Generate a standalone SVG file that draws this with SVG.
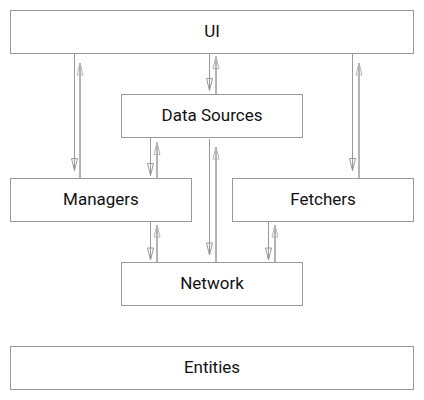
<svg xmlns="http://www.w3.org/2000/svg" width="424" height="400" viewBox="0 0 424 400">
<style>
.box{fill:#fff;stroke:#999;stroke-width:1}
.lbl{font-family:Roboto,"Liberation Sans",sans-serif;font-size:17px;fill:#111;text-anchor:middle}
.dn{stroke:#999;stroke-width:1;fill:none;marker-end:url(#headDn)}
.up{stroke:#b4b4b4;stroke-width:2;fill:none;marker-end:url(#headUp)}
</style>
<defs>
<marker id="headDn" markerUnits="userSpaceOnUse" markerWidth="14" markerHeight="14" refX="12" refY="7" orient="auto" overflow="visible">
<path d="M0,4 L12,7 L0,10 Z" fill="none" stroke="#999" stroke-width="1"/>
</marker>
<marker id="headUp" markerUnits="userSpaceOnUse" markerWidth="14" markerHeight="14" refX="12" refY="7" orient="auto" overflow="visible">
<path d="M0,4 L12,7 L0,10 Z" fill="none" stroke="#b4b4b4" stroke-width="1"/>
</marker>
</defs>
<rect width="424" height="400" fill="#fff"/>
<g id="ui"><rect class="box" x="10.5" y="10.5" width="403" height="43"/><text class="lbl" x="212" y="37">UI</text></g>
<g id="data-sources"><rect class="box" x="121.5" y="94.5" width="181" height="43"/><text class="lbl" x="212" y="121">Data Sources</text></g>
<g id="managers"><rect class="box" x="10.5" y="178.5" width="181" height="43"/><text class="lbl" x="101" y="205">Managers</text></g>
<g id="fetchers"><rect class="box" x="232.5" y="178.5" width="181" height="43"/><text class="lbl" x="323" y="205">Fetchers</text></g>
<g id="network"><rect class="box" x="121.5" y="262.5" width="181" height="43"/><text class="lbl" x="212" y="289">Network</text></g>
<g id="entities"><rect class="box" x="10.5" y="346.5" width="403" height="43"/><text class="lbl" x="212" y="373">Entities</text></g>
<g id="connectors">
<line class="dn" x1="74.5" y1="54" x2="74.5" y2="170.5"/>
<line class="up" x1="80" y1="178" x2="80" y2="63"/>
<line class="dn" x1="209.5" y1="54" x2="209.5" y2="90.5"/>
<line class="up" x1="216" y1="94" x2="216" y2="56.5"/>
<line class="dn" x1="352.5" y1="54" x2="352.5" y2="170.5"/>
<line class="up" x1="359" y1="178" x2="359" y2="63"/>
<line class="dn" x1="150.5" y1="138" x2="150.5" y2="175.5"/>
<line class="up" x1="157" y1="178" x2="157" y2="142.5"/>
<line class="dn" x1="209.5" y1="139" x2="209.5" y2="255"/>
<line class="up" x1="216" y1="262" x2="216" y2="147"/>
<line class="dn" x1="150.5" y1="222" x2="150.5" y2="260"/>
<line class="up" x1="157" y1="262" x2="157" y2="225"/>
<line class="dn" x1="268.5" y1="222" x2="268.5" y2="260"/>
<line class="up" x1="275" y1="262" x2="275" y2="225"/>
</g>
</svg>
